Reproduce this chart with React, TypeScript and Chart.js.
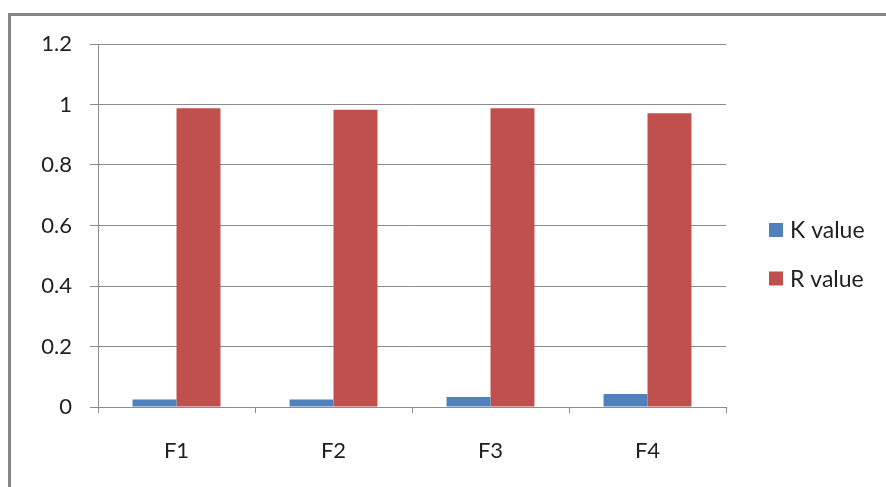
import React, { useEffect, useRef } from "react";
import { Chart, registerables } from "chart.js";

Chart.register(...registerables);

const categories = ["F1", "F2", "F3", "F4"];
const kValues = [0.025, 0.025, 0.033, 0.043];
const rValues = [0.988, 0.983, 0.988, 0.971];
const yTicks = [0, 0.2, 0.4, 0.6, 0.8, 1, 1.2];

const FONT = "Lato";
const TEXT = "#1f1f1f";
const GRID = "#8c8c8c";

const framePlugin = {
  id: "frame",
  beforeDraw(chart: any) {
    const ctx = chart.ctx;
    ctx.save();
    ctx.strokeStyle = "#858585";
    ctx.lineWidth = 3;
    ctx.beginPath();
    ctx.moveTo(9.5, 600);
    ctx.lineTo(9.5, 14.5);
    ctx.lineTo(1000, 14.5);
    ctx.stroke();
    ctx.restore();
  },
};

const legendPlugin = {
  id: "sideLegend",
  afterDraw(chart: any) {
    const ctx = chart.ctx;
    ctx.save();
    ctx.font = `23px ${FONT}`;
    ctx.textBaseline = "middle";
    ctx.textAlign = "left";
    chart.data.datasets.forEach((ds: any, i: number) => {
      const cy = 230 + i * 48.5;
      ctx.fillStyle = ds.backgroundColor;
      ctx.fillRect(769, cy - 7, 14, 14);
      ctx.fillStyle = TEXT;
      ctx.fillText(ds.label, 790, cy + 1);
    });
    ctx.restore();
  },
};

export default function App() {
  const ref = useRef<HTMLCanvasElement>(null);
  useEffect(() => {
    document.body.style.margin = "0";
    const chart = new Chart(ref.current!, {
      type: "bar",
      data: {
        labels: categories,
        datasets: [
          { label: "K value", data: kValues, backgroundColor: "#4F81BD", categoryPercentage: 0.56, barPercentage: 1 },
          { label: "R value", data: rValues, backgroundColor: "#C0504D", categoryPercentage: 0.56, barPercentage: 1 },
        ],
      },
      options: {
        animation: false,
        responsive: false,
        layout: { padding: { top: 44, right: 160, left: 0, bottom: 0 } },
        plugins: { legend: { display: false }, tooltip: { enabled: false } },
        scales: {
          x: {
            grid: { offset: true, drawOnChartArea: false, drawTicks: true, tickLength: 6, color: GRID },
            border: { color: GRID, width: 1 },
            ticks: { color: TEXT, font: { family: FONT, size: 22 }, padding: 25 },
            afterFit: (s: any) => { s.height = 80; },
          },
          y: {
            min: 0,
            max: 1.2,
            afterBuildTicks: (s: any) => { s.ticks = yTicks.map((v) => ({ value: v })); },
            grid: { color: GRID, tickLength: 8 },
            border: { color: GRID, width: 1 },
            ticks: { color: TEXT, font: { family: FONT, size: 22 }, padding: 18, callback: (v: any) => String(Math.round(v * 10) / 10) },
            afterFit: (s: any) => { s.width = 98; },
          },
        },
      },
      plugins: [framePlugin, legendPlugin],
    });
    return () => chart.destroy();
  }, []);
  return <canvas ref={ref} width={886} height={487} style={{ display: "block" }} />;
}
